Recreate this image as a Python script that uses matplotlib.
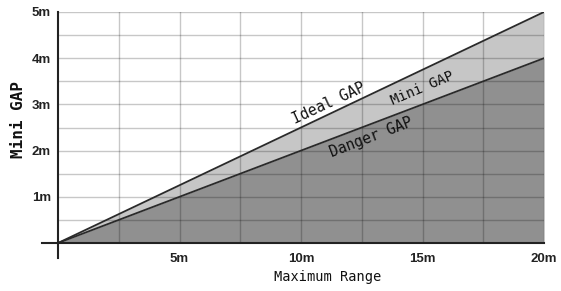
import matplotlib.pyplot as plt
import numpy as np

# range (m) and the two gap lines (m)
max_range = [0, 20]
ideal_gap = [0, 5]
danger_gap = [0, 4]

x_ticks = [5, 10, 15, 20]
x_labels = ['5m', '10m', '15m', '20m']
y_ticks = [1, 2, 3, 4, 5]
y_labels = ['1m', '2m', '3m', '4m', '5m']

mono = ['DejaVu Sans Mono', 'DejaVu Sans']
bold = ['Liberation Sans', 'DejaVu Sans']

fig = plt.figure(figsize=(5.61, 2.91), dpi=100)
ax = fig.add_axes([58/561, 1-243/291, (544-58)/561, (243-12)/291])

# filled regions
ax.fill_between(max_range, danger_gap, ideal_gap, color='#c6c6c6', lw=0, zorder=1)
ax.fill_between(max_range, 0, danger_gap, color='#909090', lw=0, zorder=1)

# grid every 2.5m / 0.5m, drawn over the fills
for gx in np.arange(2.5, 20.01, 2.5):
    ax.axvline(gx, color='black', alpha=0.22, lw=1, zorder=2)
for gy in np.arange(0.5, 5.01, 0.5):
    ax.axhline(gy, color='black', alpha=0.22, lw=1, zorder=2)

ax.plot(max_range, ideal_gap, color='#2a2a2a', lw=1.3, zorder=3)
ax.plot(max_range, danger_gap, color='#2a2a2a', lw=1.3, zorder=3)

# axis lines, sticking out a little past the origin
ax.plot([-0.65, 20], [0, 0], color='#222222', lw=1.5, clip_on=False, zorder=4)
ax.plot([0, 0], [-0.33, 5], color='#222222', lw=1.5, clip_on=False, zorder=4)

ax.set_xlim(0, 20)
ax.set_ylim(0, 5)
for s in ax.spines.values():
    s.set_visible(False)

ax.set_xticks(x_ticks)
ax.set_xticklabels(x_labels, family=bold, fontsize=9.5, fontweight='bold', color='#222222')
ax.set_yticks(y_ticks)
ax.set_yticklabels(y_labels, family=bold, fontsize=9.5, fontweight='bold', color='#222222')
ax.tick_params(length=0, pad=5)
ax.tick_params(axis='x', pad=7)

fig.text(328/561, 1-277/291, 'Maximum Range', family=mono, fontsize=9.8,
         ha='center', va='center', color='#111111')
fig.text(19/561, 1-119/291, 'Mini GAP', family=mono, fontsize=11.5, fontweight='bold',
         rotation=90, ha='center', va='center', color='#111111')

ax.text(11.15, 3.03, 'Ideal GAP', family=mono, fontsize=10.5, rotation=25,
        ha='center', va='center', zorder=5, color='#111111')
ax.text(15.0, 3.35, 'Mini GAP', family=mono, fontsize=10, rotation=23,
        ha='center', va='center', zorder=5, color='#111111')
ax.text(12.9, 2.29, 'Danger GAP', family=mono, fontsize=10.5, rotation=21,
        ha='center', va='center', zorder=5, color='#111111')

fig.savefig('out.png', dpi=100)
